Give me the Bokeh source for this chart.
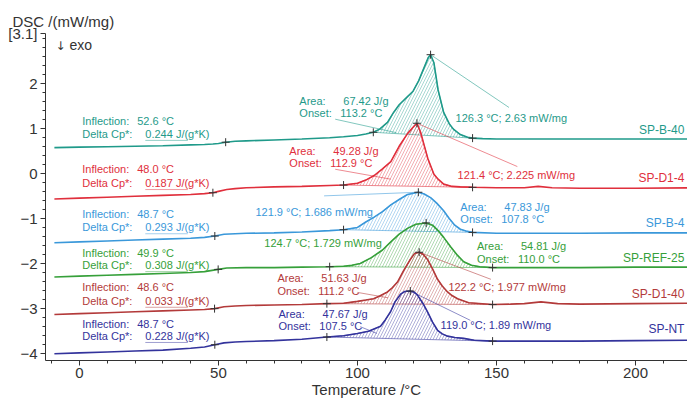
import numpy as np
from bokeh.plotting import figure
from bokeh.models import Range1d, FixedTicker, Label, ColumnDataSource
from bokeh.core.properties import value
from bokeh.embed import file_html
from bokeh.resources import INLINE

# ---------------- data ----------------
names = ["SP-B-40", "SP-D1-4", "SP-B-4", "SP-REF-25", "SP-D1-40", "SP-NT"]

T_B40 = [-9, 0, 10, 20, 30, 40, 45, 48, 50, 52.6, 56, 60, 70, 80, 90, 95, 100, 103, 105.7, 108,
         110.8, 113, 115, 118, 120, 122, 124, 125.5, 126.3, 127.5, 129, 131, 133, 134.5, 137, 139.6,
         141.4, 145, 150, 160, 170, 180, 200, 222]
DSC_B40 = [0.57, 0.58, 0.59, 0.60, 0.61, 0.63, 0.64, 0.65, 0.66, 0.69, 0.71, 0.72, 0.74, 0.76, 0.79,
           0.81, 0.84, 0.87, 0.91, 0.98, 1.13, 1.35, 1.52, 1.70, 1.82, 2.05, 2.35, 2.57, 2.63, 2.45,
           1.85, 1.35, 1.10, 0.98, 0.86, 0.80, 0.78, 0.77, 0.76, 0.76, 0.76, 0.76, 0.76, 0.76]

T_D14 = [-9, 0, 10, 20, 30, 40, 45, 48, 50, 53, 56, 60, 70, 80, 90, 95, 100, 103, 106, 109,
         112, 115, 118, 120, 121.4, 122.7, 124, 125.3, 127.5, 129, 131, 134, 137, 141.4, 150, 160,
         165, 170, 180, 200, 222]
DSC_D14 = [-0.57, -0.55, -0.53, -0.51, -0.49, -0.47, -0.45, -0.43, -0.40, -0.36, -0.34, -0.32,
           -0.30, -0.29, -0.27, -0.26, -0.22, -0.15, -0.05, 0.10, 0.26, 0.60, 0.88, 1.02, 1.11,
           0.91, 0.62, 0.33, -0.02, -0.13, -0.24, -0.29, -0.30, -0.31, -0.32, -0.32, -0.29, -0.32,
           -0.33, -0.33, -0.32]

T_B4 = [-9, 0, 10, 20, 30, 40, 45, 48.7, 52, 56, 60, 70, 80, 90, 95, 100, 103, 106, 109, 112,
        115, 118, 121.9, 124, 126.3, 128.5, 131, 133, 135, 137, 139, 141.4, 150, 160, 170, 180, 200, 222]
DSC_B4 = [-1.54, -1.52, -1.50, -1.48, -1.46, -1.44, -1.42, -1.39, -1.35, -1.34, -1.33, -1.32,
          -1.30, -1.27, -1.25, -1.20, -1.08, -0.97, -0.85, -0.70, -0.58, -0.47, -0.42, -0.46,
          -0.54, -0.66, -0.83, -1.00, -1.15, -1.24, -1.28, -1.31, -1.33, -1.33, -1.33, -1.33,
          -1.32, -1.32]

T_REF = [-9, 0, 10, 20, 30, 40, 45, 49.9, 53, 60, 70, 80, 90, 95, 98, 101, 105, 109, 112, 115,
         118, 121, 124.7, 127, 129, 131, 133.5, 136, 138.2, 141, 144, 148.6, 160, 170, 180, 200, 222]
DSC_REF = [-2.30, -2.28, -2.26, -2.24, -2.22, -2.20, -2.18, -2.13, -2.10, -2.09, -2.09, -2.08,
           -2.07, -2.06, -2.04, -2.00, -1.87, -1.70, -1.52, -1.35, -1.22, -1.13, -1.10, -1.15,
           -1.27, -1.42, -1.63, -1.82, -1.96, -2.04, -2.07, -2.09, -2.09, -2.09, -2.09, -2.08, -2.08]

T_D140 = [-9, 0, 10, 20, 30, 40, 45, 48.6, 52, 56, 60, 70, 80, 89, 95, 100, 103, 105.8, 108, 110.8,
          112.5, 114.4, 116.5, 119, 120.5, 122.2, 123.7, 125.2, 127, 128.8, 130.5, 132.4, 134, 136,
          140, 148.6, 155, 160, 166, 172, 180, 200, 222]
DSC_D140 = [-3.13, -3.11, -3.09, -3.07, -3.05, -3.03, -3.02, -3.00, -2.96, -2.94, -2.93, -2.92,
            -2.91, -2.89, -2.88, -2.84, -2.81, -2.78, -2.72, -2.63, -2.54, -2.41, -2.17, -1.91,
            -1.78, -1.75, -1.80, -1.91, -2.12, -2.35, -2.50, -2.63, -2.71, -2.78, -2.87, -2.91,
            -2.90, -2.89, -2.85, -2.89, -2.90, -2.89, -2.88]

T_NT = [-9, 0, 10, 20, 30, 40, 45, 48.7, 52, 56, 60, 70, 80, 89, 95, 100, 104, 108.3, 110, 111.9,
        113.5, 115.5, 117, 119.0, 120.3, 121.6, 123.5, 125.2, 127, 128.8, 130.5, 132.4, 135, 138.2,
        142, 148.6, 160, 180, 200, 222]
DSC_NT = [-4.00, -3.98, -3.96, -3.94, -3.92, -3.88, -3.85, -3.80, -3.76, -3.74, -3.73, -3.71,
          -3.68, -3.63, -3.60, -3.55, -3.50, -3.39, -3.25, -3.07, -2.85, -2.68, -2.62, -2.61,
          -2.63, -2.70, -2.88, -3.07, -3.30, -3.48, -3.56, -3.61, -3.64, -3.66, -3.70, -3.72,
          -3.72, -3.72, -3.71, -3.70]

inflection_T = [52.6, 48.0, 48.7, 49.9, 48.6, 48.7]
area_start_T = [105.7, 95, 95, 90, 89, 89]
area_end_T = [141.4, 141.4, 141.4, 148.6, 148.6, 148.6]
peak_T = [126.3, 121.4, 121.9, 124.7, 122.2, 119.0]

inflection_txt = ["52.6 °C", "48.0 °C", "48.7 °C", "49.9 °C", "48.6 °C", "48.7 °C"]
delta_cp_txt = ["0.244 J/(g*K)", "0.187 J/(g*K)", "0.293 J/(g*K)", "0.308 J/(g*K)",
                "0.033 J/(g*K)", "0.228 J/(g*K)"]
area_txt = ["67.42 J/g", "49.28 J/g", "47.83 J/g", "54.81 J/g", "51.63 J/g", "47.67 J/g"]
onset_txt = ["113.2 °C", "112.9 °C", "107.8 °C", "110.0 °C", "111.2 °C", "107.5 °C"]
peak_txt = ["126.3 °C; 2.63 mW/mg", "121.4 °C; 2.225 mW/mg", "121.9 °C; 1.686 mW/mg",
            "124.7 °C; 1.729 mW/mg", "122.2 °C; 1.977 mW/mg", "119.0 °C; 1.89 mW/mg"]

y_ticks = [-4, -3, -2, -1, 0, 1, 2, 3.1]
y_tick_labels = {3.1: "[3.1]"}
x_ticks = [0, 50, 100, 150, 200]

T_all = [T_B40, T_D14, T_B4, T_REF, T_D140, T_NT]
D_all = [DSC_B40, DSC_D14, DSC_B4, DSC_REF, DSC_D140, DSC_NT]

# ---------------- styles / layout ----------------
colors = ["#1f9a8a", "#e02f3c", "#3a98da", "#36a03a", "#b33a3a", "#33339c"]
FONT = "Liberation Sans"

infl_y = [1.17, 0.09, -0.90, -1.76, -2.52, -3.33]
dcp_y = [0.87, -0.22, -1.20, -2.04, -2.83, -3.61]
area_xy = [(79.1, 1.61), (75.5, 0.50), (137.0, -0.74), (143.0, -1.61), (71.2, -2.33), (71.6, -3.11)]
onset_dy = 0.28
peak_lbl_xy = [(135.3, 1.23), (136.0, -0.04), (63.3, -0.85), (66.5, -1.54), (132.7, -2.52), (129.9, -3.37)]
peak_lead_end = [(154.5, 1.46), (157.5, 0.15), (88.0, -0.50), None, (148.0, -2.35), (140.6, -3.26)]
name_y = [0.96, -0.11, -1.11, -1.87, -2.67, -3.46]
onset_lead = [(92, 1.20, 114, 0.90), (92, 0.09, 112, -0.13), None, None,
              (100, -2.64, 111, -2.76), (101, -3.40, 107, -3.55)]

p = figure(width=687, height=400, output_backend="svg", toolbar_location=None,
           x_range=Range1d(-12.2, 218.7), y_range=Range1d(-4.15, 3.1),
           min_border_left=45, min_border_right=0, min_border_top=33, min_border_bottom=30)
p.outline_line_color = None
p.xgrid.visible = False
p.ygrid.visible = False
p.background_fill_color = "white"
p.border_fill_color = "white"

p.title.text = "DSC /(mW/mg)"
p.title.align = "left"
p.title.offset = -33
p.title.standoff = 8
p.title.text_font = FONT
p.title.text_font_size = "15px"
p.title.text_font_style = "normal"
p.title.text_color = "#333333"

for ax in (p.xaxis[0], p.yaxis[0]):
    ax.axis_line_color = "#333333"
    ax.major_tick_line_color = "#333333"
    ax.minor_tick_line_color = "#333333"
    ax.major_tick_out = 5
    ax.major_tick_in = 0
    ax.minor_tick_out = 3
    ax.minor_tick_in = 0
    ax.major_label_text_font = FONT
    ax.major_label_text_font_size = "15px"
    ax.major_label_text_color = "#333333"
p.xaxis.ticker = FixedTicker(ticks=x_ticks, minor_ticks=list(range(-10, 221, 10)))
p.yaxis.ticker = FixedTicker(ticks=y_ticks,
                             minor_ticks=[round(v, 1) for v in np.arange(-4.0, 3.01, 0.2)])
p.yaxis.major_label_overrides = y_tick_labels
p.xaxis.major_label_standoff = 2
p.yaxis.major_label_standoff = 3
p.xaxis.axis_label = "Temperature /°C"
p.xaxis.axis_label_text_font = FONT
p.xaxis.axis_label_text_font_size = "15px"
p.xaxis.axis_label_text_font_style = "normal"
p.xaxis.axis_label_text_color = "#333333"
p.xaxis.axis_label_standoff = 0

texts = dict(x=[], y=[], t=[], c=[])


def add_text(x, y, t, c):
    texts["x"].append(x); texts["y"].append(y); texts["t"].append(t); texts["c"].append(c)


for i in range(6):
    T, D, col = T_all[i], D_all[i], colors[i]
    lookup = dict(zip(T, D))
    seg = [(t, d) for t, d in zip(T, D) if area_start_T[i] <= t <= area_end_T[i]]
    p.patch([s[0] for s in seg], [s[1] for s in seg], fill_color=None, line_color=col,
            line_width=0.8, line_alpha=0.7, hatch_pattern="/", hatch_color=col,
            hatch_alpha=0.65, hatch_scale=6, hatch_weight=0.6)
    p.line(T, D, line_color=col, line_width=1.6)
    if peak_lead_end[i] is not None:
        ex, ey = peak_lead_end[i]
        p.line([peak_T[i], ex], [lookup[peak_T[i]], ey], line_color=col, line_width=0.8, line_alpha=0.7)
    if onset_lead[i] is not None:
        x0, y0, x1, y1 = onset_lead[i]
        p.line([x0, x1], [y0, y1], line_color=col, line_width=0.8, line_alpha=0.7)
    p.line([23.7, 39.0], [dcp_y[i] - 0.14, dcp_y[i] - 0.14], line_color=col, line_width=0.8, line_alpha=0.6)
    ct = [inflection_T[i], area_start_T[i], area_end_T[i], peak_T[i]]
    p.scatter(ct, [lookup[t] for t in ct], marker="cross", size=8, line_color="#333333", line_width=1)
    add_text(1.0, infl_y[i], "Inflection:", col)
    add_text(20.8, infl_y[i], inflection_txt[i], col)
    add_text(1.0, dcp_y[i], "Delta Cp*:", col)
    add_text(23.7, dcp_y[i], delta_cp_txt[i], col)
    ax_, ay_ = area_xy[i]
    add_text(ax_, ay_, "Area:", col)
    add_text(ax_ + 15.8, ay_, area_txt[i], col)
    add_text(ax_, ay_ - onset_dy, "Onset:", col)
    add_text(ax_ + 14.7, ay_ - onset_dy, onset_txt[i], col)
    add_text(peak_lbl_xy[i][0], peak_lbl_xy[i][1], peak_txt[i], col)

src = ColumnDataSource(texts)
p.text(x="x", y="y", text="t", text_color="c", source=src, text_font=value(FONT),
       text_font_size="11px", text_baseline="middle", text_align="left")

p.text(x=[217.6] * 6, y=name_y, text=names, text_color=colors, text_font=value(FONT),
       text_font_size="12px", text_baseline="middle", text_align="right")

p.add_layout(Label(x=-8.6, y=2.82, text="↓", text_font="DejaVu Sans", text_font_size="12px",
                   text_color="#333333", text_baseline="middle"))
p.add_layout(Label(x=-3.6, y=2.84, text="exo", text_font=FONT, text_font_size="14px",
                   text_color="#333333", text_baseline="middle"))

open("out.html", "w").write(file_html(p, INLINE))
